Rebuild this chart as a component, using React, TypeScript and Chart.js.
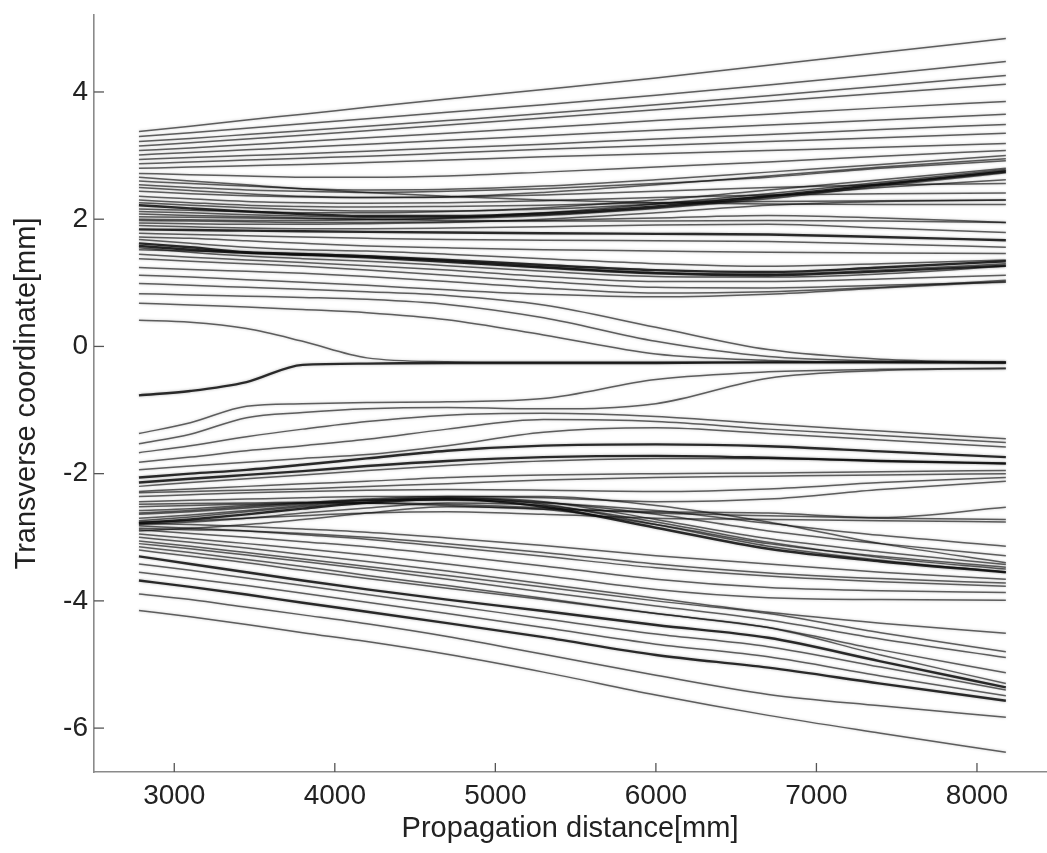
import React, { useEffect, useRef } from "react";
import { Chart, registerables } from "chart.js";

Chart.register(...registerables);

// Propagation distance sample points [mm]
const distances = [2780, 3100, 3450, 3800, 4200, 4700, 5300, 6000, 6700, 7400, 8180];
const xTickValues = [3000, 4000, 5000, 6000, 7000, 8000];
const yTickValues = [-6, -4, -2, 0, 2, 4];

// Transverse coordinate [mm] of each trajectory at the distances above
const upperOuter: number[][] = [
  [3.38, 3.46, 3.56, 3.65, 3.76, 3.89, 4.04, 4.22, 4.42, 4.62, 4.84],
  [3.3, 3.36, 3.43, 3.5, 3.58, 3.68, 3.8, 3.95, 4.11, 4.28, 4.48],
  [3.22, 3.27, 3.33, 3.39, 3.46, 3.55, 3.66, 3.8, 3.94, 4.09, 4.26],
  [3.15, 3.2, 3.26, 3.32, 3.39, 3.48, 3.59, 3.72, 3.85, 3.98, 4.12],
  [3.08, 3.12, 3.17, 3.22, 3.28, 3.35, 3.44, 3.55, 3.65, 3.75, 3.85],
  [3.01, 3.05, 3.09, 3.13, 3.18, 3.24, 3.31, 3.4, 3.48, 3.56, 3.65],
  [2.94, 2.97, 3.0, 3.03, 3.07, 3.12, 3.18, 3.26, 3.33, 3.41, 3.49],
  [2.87, 2.9, 2.93, 2.96, 2.99, 3.04, 3.1, 3.16, 3.22, 3.28, 3.35],
  [2.8, 2.82, 2.84, 2.86, 2.89, 2.93, 2.98, 3.03, 3.08, 3.13, 3.19],
];

const upperRising: number[][] = [
  [2.72, 2.7, 2.68, 2.66, 2.66, 2.68, 2.74, 2.82, 2.9, 2.99, 3.08],
  [2.6, 2.56, 2.52, 2.48, 2.46, 2.47, 2.52, 2.62, 2.74, 2.86, 3.0],
  [2.5, 2.45, 2.4, 2.36, 2.34, 2.35, 2.42, 2.54, 2.68, 2.82, 2.95],
  [2.22, 2.17, 2.12, 2.08, 2.05, 2.05, 2.09, 2.2, 2.36, 2.55, 2.75],
  [2.12, 2.1, 2.07, 2.05, 2.03, 2.03, 2.07, 2.18, 2.34, 2.54, 2.76],
  [2.04, 2.03, 2.02, 2.01, 2.0, 2.01, 2.06, 2.17, 2.32, 2.52, 2.73],
  [2.44, 2.4, 2.37, 2.35, 2.34, 2.35, 2.38, 2.44, 2.5, 2.54, 2.56],
  [2.36, 2.32, 2.28, 2.26, 2.25, 2.26, 2.29, 2.34, 2.38, 2.4, 2.41],
  [2.3, 2.26, 2.22, 2.2, 2.19, 2.2, 2.22, 2.26, 2.28, 2.29, 2.3],
  [2.66, 2.6, 2.54, 2.48, 2.42, 2.36, 2.3, 2.26, 2.24, 2.23, 2.23],
];

const upperCore: number[][] = [
  [2.16, 2.14, 2.12, 2.1, 2.1, 2.12, 2.18, 2.3, 2.46, 2.62, 2.8],
  [2.0, 1.99, 1.98, 1.98, 1.99, 2.02, 2.1, 2.24, 2.4, 2.58, 2.78],
  [1.94, 1.93, 1.92, 1.92, 1.93, 1.95, 2.0, 2.1, 2.22, 2.28, 2.3],
  [2.08, 2.06, 2.04, 2.02, 2.0, 1.98, 1.97, 1.97, 1.98, 1.97, 1.95],
  [1.68, 1.62, 1.56, 1.52, 1.5, 1.45, 1.38, 1.3, 1.26, 1.3, 1.36],
  [1.52, 1.5, 1.48, 1.46, 1.42, 1.35, 1.25, 1.16, 1.14, 1.2, 1.3],
  [2.26, 2.22, 2.18, 2.15, 2.13, 2.13, 2.16, 2.24, 2.36, 2.5, 2.62],
  [2.54, 2.5, 2.46, 2.44, 2.42, 2.44, 2.48, 2.56, 2.66, 2.8, 2.92],
];

const upperFalling: number[][] = [
  [1.98, 1.97, 1.96, 1.95, 1.95, 1.96, 1.98, 2.02, 2.06, 2.02, 1.95],
  [1.9, 1.88, 1.86, 1.85, 1.85, 1.86, 1.88, 1.91, 1.92, 1.86, 1.79],
  [1.84, 1.83, 1.82, 1.81, 1.8, 1.79, 1.78, 1.77, 1.76, 1.72, 1.67],
  [1.78, 1.76, 1.74, 1.72, 1.7, 1.68, 1.67, 1.66, 1.65, 1.61, 1.56],
  [1.72, 1.7, 1.66, 1.62, 1.58, 1.55, 1.52, 1.5, 1.48, 1.47, 1.46],
  [1.62, 1.56, 1.48, 1.45, 1.42, 1.36, 1.28, 1.2, 1.17, 1.24, 1.34],
  [1.58, 1.52, 1.47, 1.44, 1.4, 1.33, 1.24, 1.15, 1.12, 1.18, 1.27],
  [1.55, 1.48, 1.42, 1.38, 1.34, 1.27, 1.18, 1.1, 1.09, 1.14, 1.26],
  [1.45, 1.4, 1.36, 1.32, 1.27, 1.2, 1.1, 1.02, 1.02, 1.06, 1.12],
  [1.38, 1.34, 1.3, 1.26, 1.2, 1.12, 1.02, 0.93, 0.92, 0.96, 1.01],
];

const upperLower: number[][] = [
  [1.24, 1.21, 1.18, 1.15, 1.1, 1.02, 0.92, 0.84, 0.86, 0.93, 1.04],
  [1.12, 1.09, 1.05, 1.01, 0.96, 0.89, 0.82, 0.78, 0.82, 0.92, 1.02],
];

const crossing: number[][] = [
  [0.99, 0.96, 0.93, 0.9, 0.86, 0.8, 0.65, 0.3, -0.05, -0.2, -0.25],
  [0.83, 0.81, 0.79, 0.77, 0.74, 0.66, 0.45, 0.08, -0.16, -0.23, -0.26],
  [0.68, 0.65, 0.62, 0.58, 0.53, 0.42, 0.18, -0.12, -0.22, -0.25, -0.26],
  [0.41, 0.38, 0.28, 0.08, -0.18, -0.24, -0.25, -0.25, -0.25, -0.25, -0.25],
];

const centre: number[][] = [
  [-0.77, -0.7, -0.56, -0.29, -0.27, -0.26, -0.26, -0.26, -0.25, -0.25, -0.25],
];

const lowerTop: number[][] = [
  [-1.37, -1.2, -0.94, -0.9, -0.88, -0.87, -0.82, -0.52, -0.4, -0.36, -0.34],
  [-1.53, -1.38, -1.12, -1.04, -0.98, -0.96, -0.98, -0.9, -0.5, -0.38, -0.35],
  [-1.67, -1.56, -1.42, -1.3, -1.18, -1.08, -1.05, -1.1, -1.22, -1.33, -1.45],
  [-1.82, -1.74, -1.64, -1.56, -1.46, -1.3, -1.15, -1.18, -1.3, -1.4, -1.51],
  [-1.94, -1.88, -1.82, -1.76, -1.7, -1.56, -1.35, -1.28, -1.37, -1.47, -1.58],
  [-2.06, -2.0, -1.94, -1.86, -1.76, -1.64, -1.56, -1.54, -1.57, -1.65, -1.74],
  [-2.14, -2.08, -2.02, -1.96, -1.88, -1.8, -1.74, -1.72, -1.75, -1.8, -1.84],
  [-2.2, -2.14, -2.08, -2.02, -1.95, -1.87, -1.8, -1.76, -1.76, -1.8, -1.84],
  [-2.28, -2.24, -2.2, -2.16, -2.12, -2.06, -2.02, -2.0, -1.99, -1.97, -1.95],
  [-2.36, -2.33, -2.3, -2.28, -2.26, -2.25, -2.26, -2.28, -2.24, -2.14, -2.06],
  [-2.44, -2.42, -2.4, -2.38, -2.36, -2.36, -2.38, -2.44, -2.4, -2.25, -2.12],
];

const lowerMid: number[][] = [
  [-2.78, -2.72, -2.64, -2.55, -2.46, -2.4, -2.52, -2.85, -3.18, -3.38, -3.55],
  [-2.74, -2.68, -2.6, -2.52, -2.44, -2.38, -2.48, -2.8, -3.14, -3.36, -3.55],
  [-2.7, -2.65, -2.58, -2.5, -2.42, -2.38, -2.44, -2.72, -3.02, -3.23, -3.43],
  [-2.64, -2.6, -2.54, -2.48, -2.42, -2.4, -2.45, -2.64, -2.9, -3.1, -3.29],
  [-2.58, -2.55, -2.5, -2.46, -2.42, -2.42, -2.46, -2.58, -2.78, -2.97, -3.14],
  [-2.52, -2.5, -2.48, -2.46, -2.46, -2.48, -2.54, -2.62, -2.66, -2.7, -2.72],
  [-2.48, -2.47, -2.46, -2.45, -2.46, -2.5, -2.56, -2.6, -2.62, -2.69, -2.53],
  [-2.95, -3.02, -3.1, -3.18, -3.28, -3.42, -3.6, -3.82, -3.95, -3.98, -3.99],
  [-2.88, -2.94, -3.0, -3.07, -3.15, -3.28, -3.45, -3.66, -3.79, -3.84, -3.87],
  [-2.82, -2.86, -2.9, -2.96, -3.03, -3.15, -3.3, -3.48, -3.61, -3.7, -3.77],
  [-2.78, -2.8, -2.83, -2.87, -2.92, -3.01, -3.13, -3.29, -3.42, -3.55, -3.66],
];

const lowerCore: number[][] = [
  [-2.8, -2.76, -2.7, -2.62, -2.54, -2.46, -2.5, -2.76, -3.08, -3.32, -3.5],
  [-2.76, -2.74, -2.7, -2.66, -2.62, -2.6, -2.64, -2.7, -2.72, -2.74, -2.76],
  [-2.62, -2.58, -2.52, -2.46, -2.4, -2.36, -2.36, -2.5, -2.76, -3.1, -3.4],
  [-2.86, -2.88, -2.9, -2.94, -3.0, -3.1, -3.24, -3.42, -3.56, -3.65, -3.72],
  [-3.06, -3.14, -3.24, -3.34, -3.46, -3.6, -3.78, -4.0, -4.2, -4.5, -4.8],
  [-2.3, -2.28, -2.26, -2.24, -2.2, -2.16, -2.1, -2.06, -2.04, -2.02, -2.0],
  [-2.9, -2.86, -2.8, -2.72, -2.62, -2.52, -2.56, -2.8, -3.1, -3.3, -3.47],
  [-3.15, -3.24, -3.35, -3.46, -3.6, -3.76, -3.96, -4.2, -4.42, -4.85, -5.3],
];

const lowerOuter: number[][] = [
  [-4.15, -4.25, -4.37, -4.5, -4.64, -4.84, -5.12, -5.48, -5.8, -6.08, -6.38],
  [-3.89, -3.98, -4.1, -4.22, -4.36, -4.56, -4.84, -5.17, -5.47, -5.65, -5.83],
  [-3.68, -3.78, -3.9, -4.03, -4.17, -4.35, -4.57, -4.85, -5.05, -5.3, -5.57],
  [-3.55, -3.65, -3.76, -3.88, -4.02, -4.2, -4.42, -4.68, -4.88, -5.18, -5.49],
  [-3.3, -3.42, -3.55, -3.68, -3.82, -3.98, -4.16, -4.38, -4.58, -4.95, -5.36],
  [-3.42, -3.52, -3.64, -3.76, -3.9, -4.07, -4.28, -4.52, -4.72, -5.04, -5.4],
  [-3.2, -3.3, -3.4, -3.52, -3.65, -3.8, -3.98, -4.2, -4.42, -4.77, -5.13],
  [-3.1, -3.18, -3.28, -3.38, -3.5, -3.66, -3.86, -4.08, -4.3, -4.6, -4.89],
  [-3.0, -3.08, -3.17, -3.27, -3.38, -3.53, -3.73, -3.96, -4.18, -4.35, -4.51],
];

const groups: Record<string, number[][]> = {
  upperOuter,
  upperRising,
  upperCore,
  upperFalling,
  upperLower,
  crossing,
  centre,
  lowerTop,
  lowerMid,
  lowerCore,
  lowerOuter,
};

// Style only: which trajectories are drawn darker/heavier
const emphasised: Record<string, number[]> = {
  upperRising: [3],
  upperFalling: [2, 5, 6],
  centre: [0],
  lowerTop: [5, 6],
  lowerMid: [0],
  lowerOuter: [2, 4],
};

const FONT = "'Liberation Sans', Arial, Helvetica, sans-serif";
const TEXT = "#222";

const scanLook = {
  id: "scanLook",
  beforeDatasetsDraw(chart: any) {
    const ctx = chart.ctx;
    ctx.save();
    ctx.shadowColor = "rgba(0,0,0,0.35)";
    ctx.shadowBlur = 3;
  },
  afterDatasetsDraw(chart: any) {
    chart.ctx.restore();
  },
};

const innerTicks = {
  id: "innerTicks",
  afterDraw(chart: any) {
    const { ctx, chartArea, scales } = chart;
    ctx.save();
    ctx.strokeStyle = "#555";
    ctx.lineWidth = 1.3;
    scales.x.ticks.forEach((_t: any, i: number) => {
      const px = scales.x.getPixelForTick(i);
      ctx.beginPath();
      ctx.moveTo(px, chartArea.bottom);
      ctx.lineTo(px, chartArea.bottom - 9);
      ctx.stroke();
    });
    scales.y.ticks.forEach((_t: any, i: number) => {
      const py = scales.y.getPixelForTick(i);
      ctx.beginPath();
      ctx.moveTo(chartArea.left, py);
      ctx.lineTo(chartArea.left + 10, py);
      ctx.stroke();
    });
    ctx.restore();
  },
};

export default function App() {
  const canvasRef = useRef<HTMLCanvasElement | null>(null);

  useEffect(() => {
    if (!canvasRef.current) return;
    const datasets: any[] = [];
    Object.keys(groups).forEach((name) => {
      groups[name].forEach((ys, idx) => {
        const heavy = (emphasised[name] || []).includes(idx);
        datasets.push({
          label: `${name}-${idx}`,
          data: distances.map((x, i) => ({ x, y: ys[i] })),
          borderColor: heavy ? "rgba(10,10,10,0.85)" : "rgba(20,20,20,0.66)",
          borderWidth: heavy ? 2.4 : 1.5,
          pointRadius: 0,
          fill: false,
          cubicInterpolationMode: "monotone",
        });
      });
    });

    const chart = new Chart(canvasRef.current, {
      type: "line",
      data: { datasets },
      plugins: [scanLook, innerTicks],
      options: {
        animation: false,
        responsive: false,
        events: [],
        layout: { padding: { top: 15, right: 1, left: 0, bottom: 0 } },
        plugins: { legend: { display: false }, tooltip: { enabled: false } },
        scales: {
          x: {
            type: "linear",
            min: 2500,
            max: 8430,
            afterBuildTicks: (s: any) => {
              s.ticks = xTickValues.map((v) => ({ value: v }));
            },
            afterFit: (s: any) => {
              s.height = 81;
              s.paddingLeft = 0;
              s.paddingRight = 0;
            },
            grid: { display: true, drawOnChartArea: false, drawTicks: false },
            border: { display: true, color: "#8a8a8a", width: 1.6 },
            ticks: {
              padding: 7,
              color: TEXT,
              font: { family: FONT, size: 28 },
              callback: (v: any) => String(v),
            },
            title: {
              display: true,
              text: "Propagation distance[mm]",
              color: TEXT,
              font: { family: FONT, size: 29 },
              padding: { top: 0, bottom: 7 },
            },
          },
          y: {
            type: "linear",
            min: -6.69,
            max: 5.21,
            afterBuildTicks: (s: any) => {
              s.ticks = yTickValues.map((v) => ({ value: v }));
            },
            afterFit: (s: any) => {
              s.width = 94;
              s.paddingTop = 0;
              s.paddingBottom = 0;
            },
            grid: { display: true, drawOnChartArea: false, drawTicks: false },
            border: { display: true, color: "#8a8a8a", width: 1.6 },
            ticks: {
              padding: 6,
              color: TEXT,
              font: { family: FONT, size: 28 },
              callback: (v: any) => String(v),
            },
            title: {
              display: true,
              text: "Transverse coordinate[mm]",
              color: TEXT,
              font: { family: FONT, size: 29 },
              padding: { top: 10, bottom: 0 },
            },
          },
        },
      },
    });
    return () => chart.destroy();
  }, []);

  return (
    <div style={{ position: "absolute", left: 0, top: 0, width: 1047, height: 853, background: "#fff" }}>
      <canvas ref={canvasRef} width={1047} height={853} style={{ display: "block" }} />
    </div>
  );
}
